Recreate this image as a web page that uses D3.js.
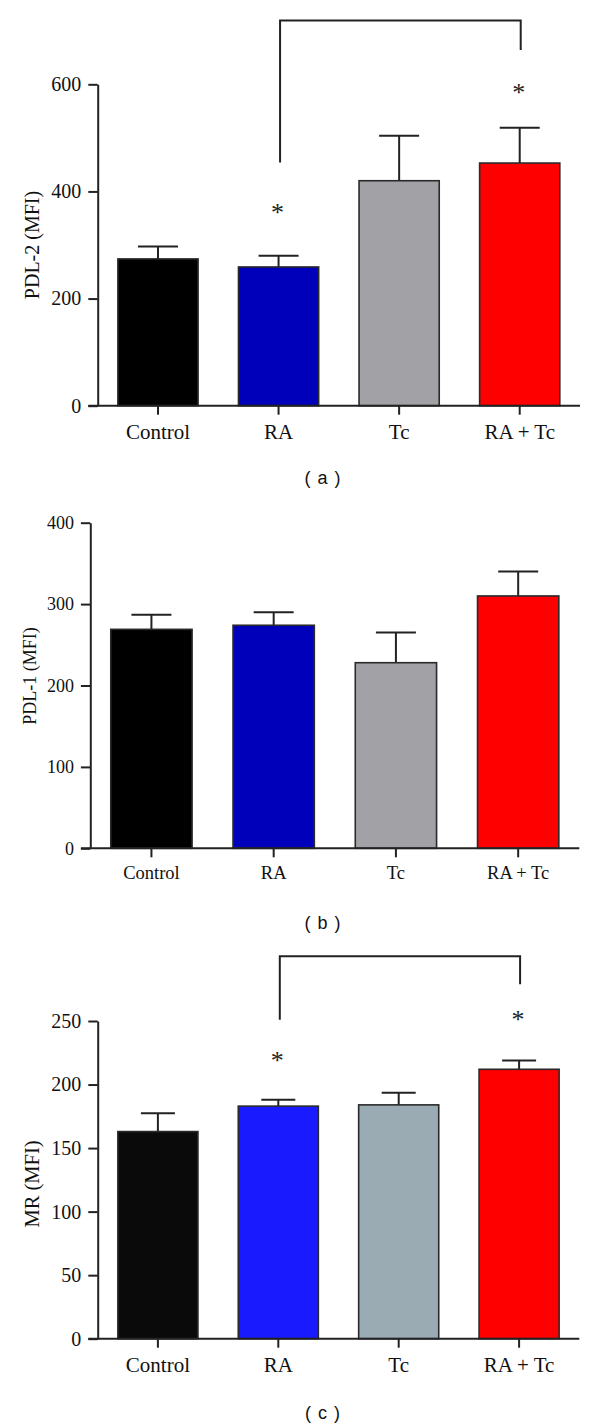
<!DOCTYPE html>
<html><head><meta charset="utf-8">
<script src="https://cdn.jsdelivr.net/npm/d3@7"></script>
<style>body{margin:0;background:#fff}svg{display:block}</style>
</head><body>
<svg id="c" width="600" height="1427"></svg>
<script>
const categories = ["Control", "RA", "Tc", "RA + Tc"];

const pdl2Values = [274, 259, 420, 453];
const pdl2Errors = [23, 21, 84, 66];
const pdl2Ticks = [0, 200, 400, 600];

const pdl1Values = [269, 274, 228, 310];
const pdl1Errors = [18, 16, 37, 30];
const pdl1Ticks = [0, 100, 200, 300, 400];

const mrValues = [163, 183, 184, 212];
const mrErrors = [14.5, 5, 9.5, 7];
const mrTicks = [0, 50, 100, 150, 200, 250];

// bracket: [from category, to category, top value, left end value, right end value]
const pdl2Bracket = ["RA", "RA + Tc", 719, 454, 664];
const mrBracket = ["RA", "RA + Tc", 301, 251, 279];
// significance stars: [category, value]
const pdl2Stars = [["RA", 369], ["RA + Tc", 594]];
const mrStars = [["RA", 222.5], ["RA + Tc", 254.7]];

const panels = [
  {values: pdl2Values, errors: pdl2Errors, ticks: pdl2Ticks, title: "PDL-2 (MFI)", caption: "( a )",
   bracket: pdl2Bracket, stars: pdl2Stars,
   colors: ["#000000", "#0000bb", "#a2a1a6", "#ff0000"],
   x0: 97.7, x1: 580, yBase: 405.7, yTop: 84.3, tickFont: 20, labelFont: 21, titleFont: 20,
   titleX: 31.7, titleY: 245, captionY: 478, capW: 40},
  {values: pdl1Values, errors: pdl1Errors, ticks: pdl1Ticks, title: "PDL-1 (MFI)", caption: "( b )",
   bracket: null, stars: [],
   colors: ["#000000", "#0000bb", "#a2a1a6", "#ff0000"],
   x0: 90.3, x1: 579.3, yBase: 848.3, yTop: 522.7, tickFont: 18, labelFont: 18.5, titleFont: 18,
   titleX: 30, titleY: 676, captionY: 923, capW: 40},
  {values: mrValues, errors: mrErrors, ticks: mrTicks, title: "MR (MFI)", caption: "( c )",
   bracket: mrBracket, stars: mrStars,
   colors: ["#0a0a0a", "#1a1aff", "#9aabb3", "#ff0000"],
   x0: 97.7, x1: 579.3, yBase: 1338.7, yTop: 1021, tickFont: 20, labelFont: 21, titleFont: 20.5,
   titleX: 31.7, titleY: 1184, captionY: 1413, capW: 34}
];

const svg = d3.select("#c");
const serif = "'Liberation Serif', 'Times New Roman', serif";
const ink = "#222";

panels.forEach(p => {
  const g = svg.append("g");
  const x = d3.scaleBand().domain(categories).range([p.x0, p.x1]).paddingInner(0.335).paddingOuter(0.1675);
  const y = d3.scaleLinear().domain([0, d3.max(p.ticks)]).range([p.yBase, p.yTop]);
  const data = categories.map((c, i) => ({c, v: p.values[i], e: p.errors[i], col: p.colors[i]}));

  const eg = g.append("g").attr("stroke", ink).attr("stroke-width", 2);
  data.forEach(d => {
    const cx = x(d.c) + x.bandwidth() / 2;
    eg.append("line").attr("x1", cx).attr("x2", cx).attr("y1", y(d.v)).attr("y2", y(d.v + d.e));
    eg.append("line").attr("x1", cx - p.capW / 2).attr("x2", cx + p.capW / 2)
      .attr("y1", y(d.v + d.e)).attr("y2", y(d.v + d.e));
  });

  g.append("g").selectAll("rect").data(data).join("rect")
    .attr("x", d => x(d.c)).attr("width", x.bandwidth())
    .attr("y", d => y(d.v)).attr("height", d => y(0) - y(d.v))
    .attr("fill", d => d.col).attr("stroke", "#2a2a2a").attr("stroke-width", 1.6);

  const ya = g.append("g").attr("transform", `translate(${p.x0},0)`)
    .call(d3.axisLeft(y).tickValues(p.ticks).tickSize(9.4).tickSizeOuter(0).tickPadding(7));
  const xa = g.append("g").attr("transform", `translate(0,${p.yBase})`)
    .call(d3.axisBottom(x).tickSize(9).tickSizeOuter(0).tickPadding(9));
  xa.select(".domain").attr("d", `M${p.x0 - 9.4},0H${p.x1}`);
  [ya, xa].forEach(a => {
    a.selectAll(".domain").attr("stroke", ink).attr("stroke-width", 2);
    a.selectAll(".tick line").attr("stroke", ink).attr("stroke-width", 2);
    a.selectAll("text").attr("fill", "#111").style("font-family", serif);
  });
  ya.selectAll("text").style("font-size", p.tickFont + "px");
  xa.selectAll("text").style("font-size", p.labelFont + "px");

  g.append("text").attr("transform", `translate(${p.titleX},${p.titleY}) rotate(-90)`)
    .attr("text-anchor", "middle").attr("dominant-baseline", "central")
    .style("font-family", serif).style("font-size", p.titleFont + "px").attr("fill", "#111")
    .text(p.title);

  if (p.bracket) {
    const [a, b, top, lv, rv] = p.bracket;
    const xa1 = x(a) + x.bandwidth() / 2 + 1.5, xb1 = x(b) + x.bandwidth() / 2 + 1;
    g.append("path").attr("d", `M${xa1},${y(lv)}V${y(top)}H${xb1}V${y(rv)}`)
      .attr("fill", "none").attr("stroke", ink).attr("stroke-width", 2);
  }
  p.stars.forEach(([c, v]) => {
    g.append("text").attr("x", x(c) + x.bandwidth() / 2 - 1).attr("y", y(v) + 13)
      .attr("text-anchor", "middle").style("font-family", serif).style("font-size", "26px")
      .attr("fill", "#222").text("*");
  });

  g.append("text").attr("x", 323).attr("y", p.captionY).attr("text-anchor", "middle")
    .attr("dominant-baseline", "central")
    .style("font-family", "'Liberation Sans', Arial, sans-serif").style("font-size", "18px")
    .style("letter-spacing", "1px").style("white-space", "pre").attr("fill", "#111")
    .text(p.caption);
});
</script>
</body></html>
